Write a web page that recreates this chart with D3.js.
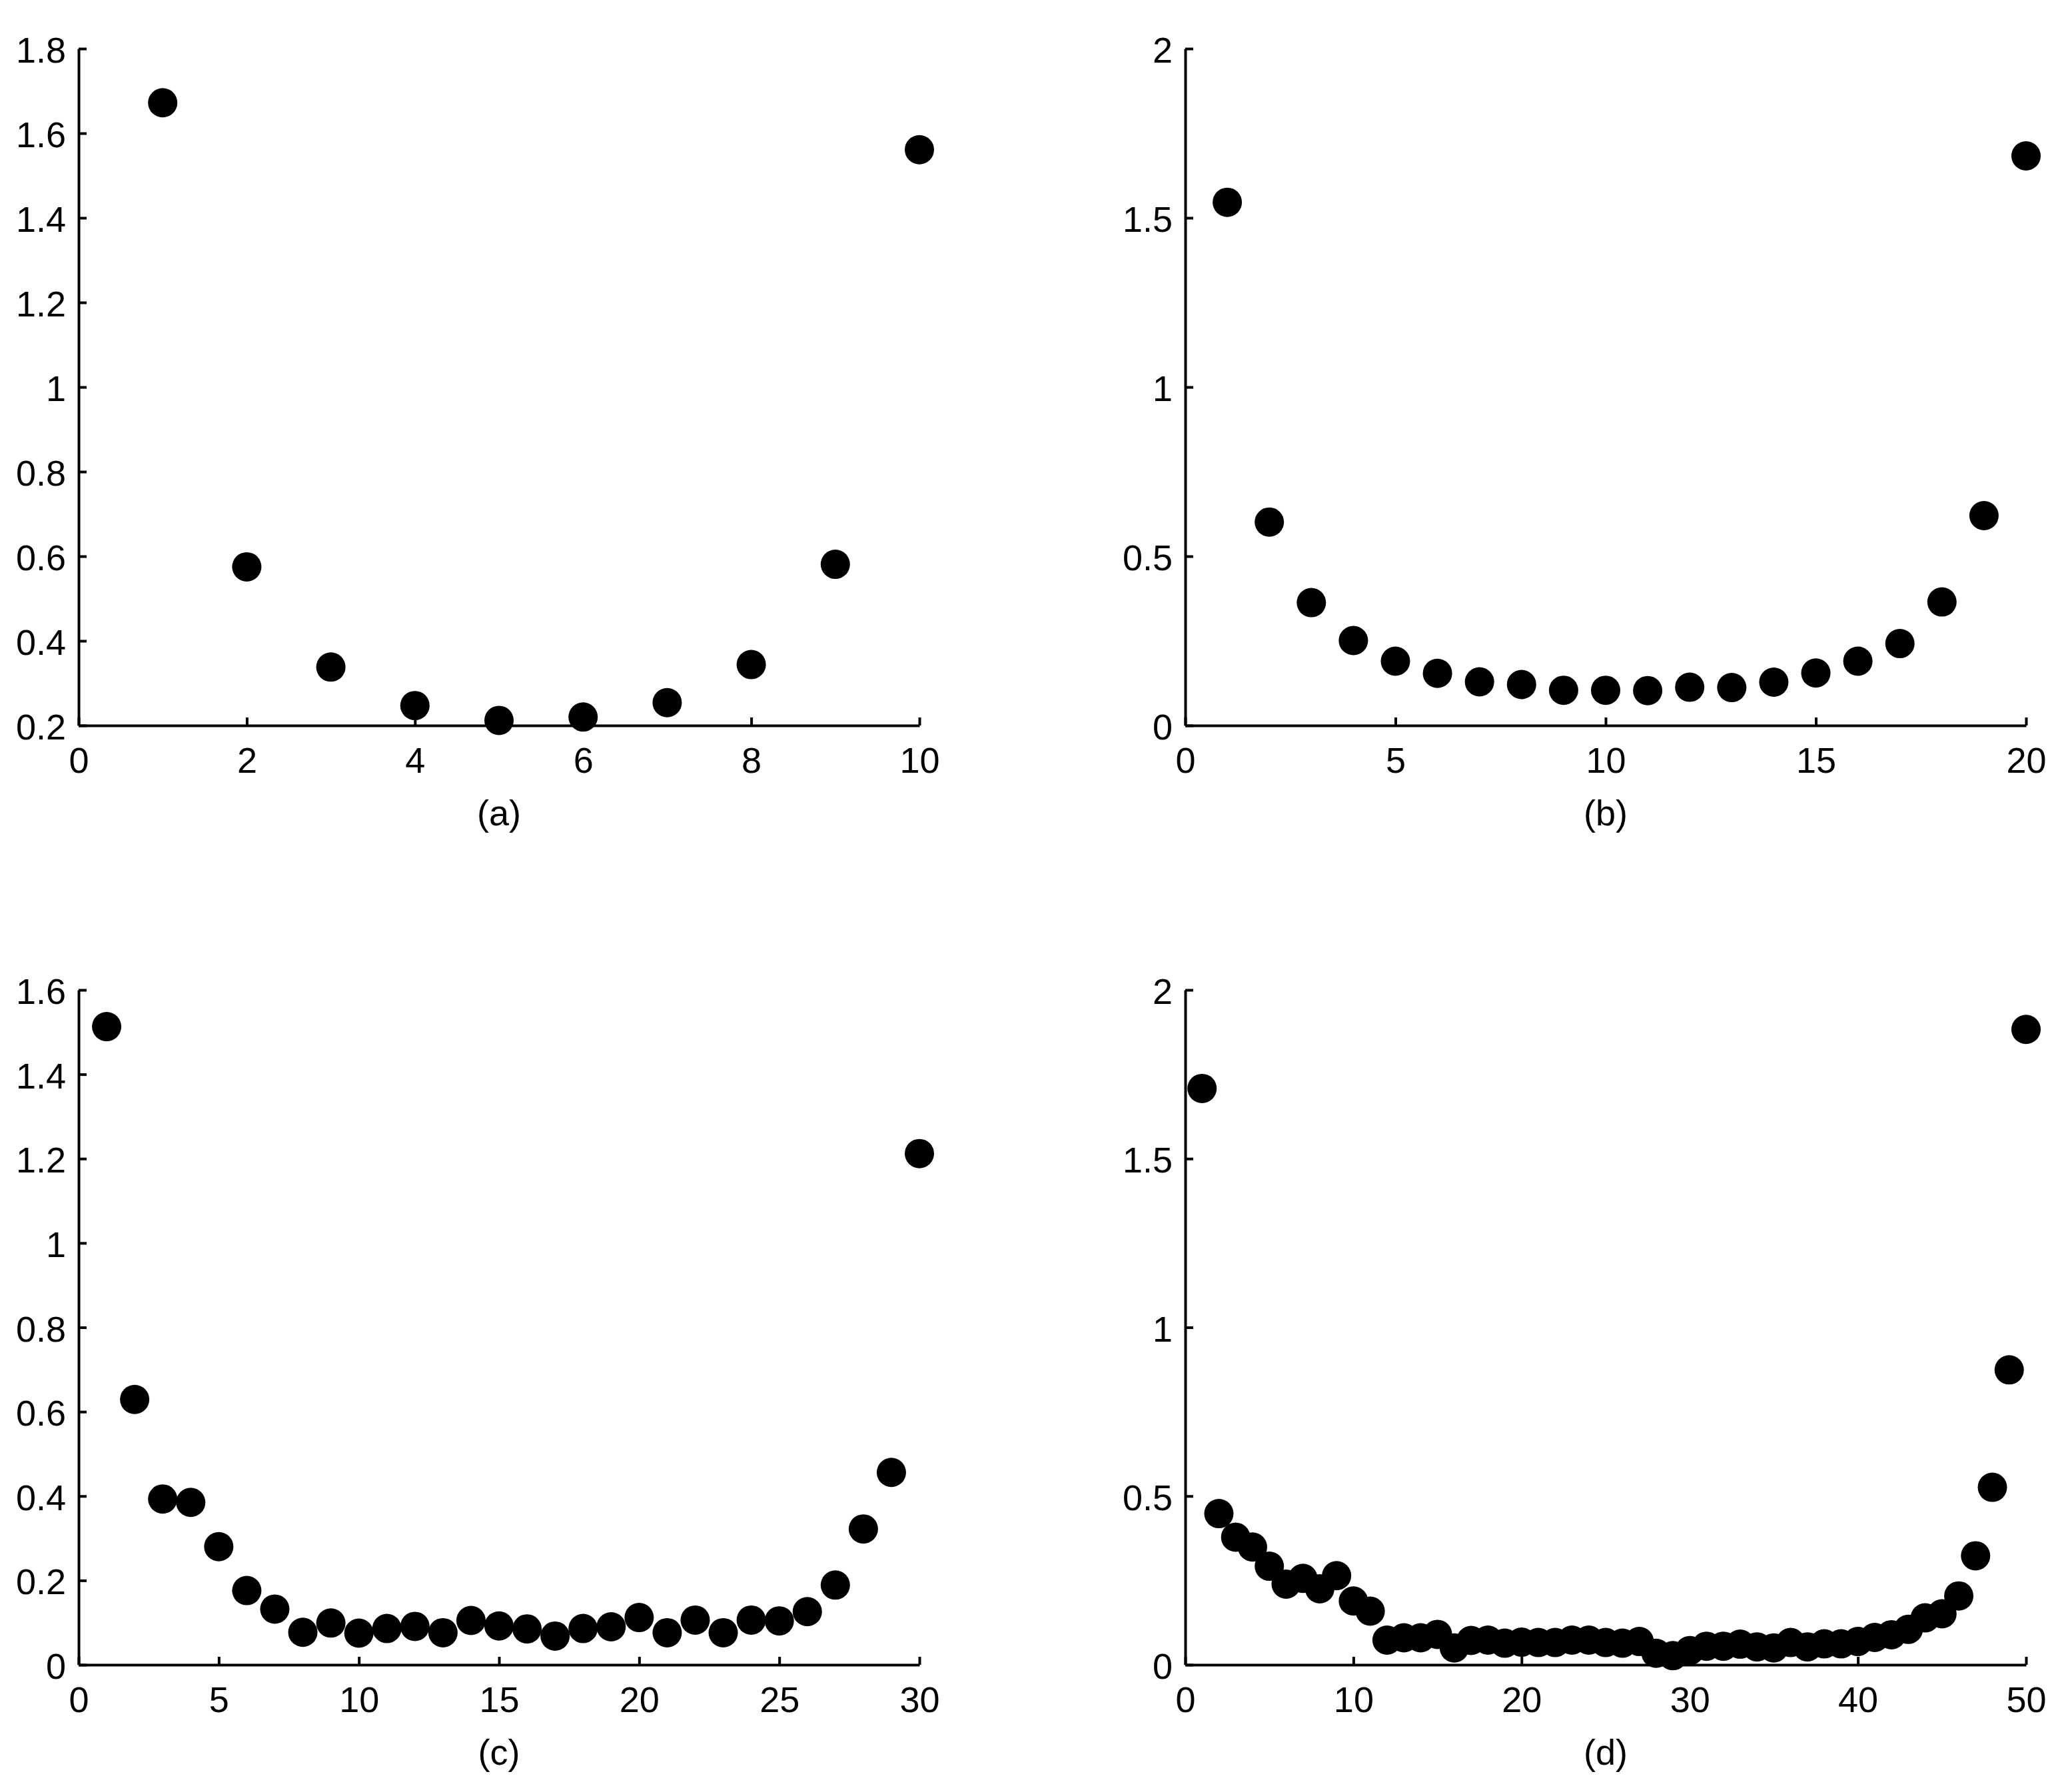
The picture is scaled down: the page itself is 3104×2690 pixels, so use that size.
<!DOCTYPE html>
<html>
<head>
<meta charset="utf-8">
<script src="https://cdn.jsdelivr.net/npm/d3@7"></script>
<style>
  body { margin: 0; background: #fff; }
  svg { display: block; }
  text { font-family: "Liberation Sans", Arial, sans-serif; }
</style>
</head>
<body>
<svg id="chart"></svg>
<script>
const width = 3104;
const height = 2690;

// values
const valuesA = [1.672, 0.575, 0.338, 0.247, 0.212, 0.220, 0.254, 0.344, 0.581, 1.561];
const valuesB = [1.546, 0.601, 0.363, 0.251, 0.190, 0.154, 0.129, 0.121, 0.104, 0.104,
                 0.103, 0.113, 0.112, 0.128, 0.155, 0.190, 0.242, 0.365, 0.620, 1.683];
const valuesC = [1.513, 0.629, 0.393, 0.385, 0.280, 0.176, 0.132, 0.077, 0.099, 0.075,
                 0.086, 0.091, 0.076, 0.105, 0.092, 0.085, 0.068, 0.086, 0.090, 0.112,
                 0.076, 0.106, 0.076, 0.106, 0.104, 0.126, 0.189, 0.322, 0.456, 1.212];
const valuesD = [1.708, 0.448, 0.378, 0.349, 0.292, 0.239, 0.256, 0.225, 0.264, 0.189,
                 0.159, 0.073, 0.080, 0.080, 0.090, 0.050, 0.072, 0.073, 0.064, 0.067,
                 0.066, 0.066, 0.073, 0.073, 0.066, 0.064, 0.069, 0.034, 0.027, 0.042,
                 0.055, 0.055, 0.061, 0.053, 0.050, 0.066, 0.053, 0.062, 0.062, 0.069,
                 0.081, 0.089, 0.105, 0.139, 0.151, 0.204, 0.323, 0.526, 0.874, 1.883];

const xTicksA = [0, 2, 4, 6, 8, 10];
const xTicksB = [0, 5, 10, 15, 20];
const xTicksC = [0, 5, 10, 15, 20, 25, 30];
const xTicksD = [0, 10, 20, 30, 40, 50];
const yTicksA = [0.2, 0.4, 0.6, 0.8, 1, 1.2, 1.4, 1.6, 1.8];
const yTicksB = [0, 0.5, 1, 1.5, 2];
const yTicksC = [0, 0.2, 0.4, 0.6, 0.8, 1, 1.2, 1.4, 1.6];
const yTicksD = [0, 0.5, 1, 1.5, 2];

const captions = ["(a)", "(b)", "(c)", "(d)"];

const svg = d3.select("#chart")
  .attr("width", width)
  .attr("height", height);

const fontSize = 54;
const plotW = 1262;

const panels = [
  { left: 118,  top: 73,   bottom: 1089, values: valuesA, xTicks: xTicksA, yTicks: yTicksA, caption: captions[0] },
  { left: 1779, top: 73,   bottom: 1089, values: valuesB, xTicks: xTicksB, yTicks: yTicksB, caption: captions[1] },
  { left: 118,  top: 1486, bottom: 2499, values: valuesC, xTicks: xTicksC, yTicks: yTicksC, caption: captions[2] },
  { left: 1779, top: 1486, bottom: 2499, values: valuesD, xTicks: xTicksD, yTicks: yTicksD, caption: captions[3] }
];

panels.forEach(p => {
  const g = svg.append("g")
    .attr("transform", `translate(${p.left},${p.top})`);
  const h = p.bottom - p.top;

  const x = d3.scaleLinear()
    .domain(d3.extent(p.xTicks))
    .range([0, plotW]);
  const y = d3.scaleLinear()
    .domain(d3.extent(p.yTicks))
    .range([h, 0]);

  // axes with inward ticks, no box
  const xAxis = g.append("g")
    .attr("transform", `translate(0,${h})`)
    .call(d3.axisBottom(x)
      .tickValues(p.xTicks)
      .tickFormat(d3.format("d"))
      .tickSizeInner(-12)
      .tickSizeOuter(0)
      .tickPadding(33));

  const yAxis = g.append("g")
    .call(d3.axisLeft(y)
      .tickValues(p.yTicks)
      .tickFormat(d => String(d))
      .tickSizeInner(-12)
      .tickSizeOuter(0)
      .tickPadding(19));

  [xAxis, yAxis].forEach(ax => {
    ax.select(".domain").attr("stroke", "#000").attr("stroke-width", 4);
    ax.selectAll(".tick line").attr("stroke", "#000").attr("stroke-width", 4);
    ax.selectAll(".tick text")
      .attr("fill", "#000")
      .attr("font-size", fontSize)
      .attr("font-family", "'Liberation Sans', Arial, sans-serif");
  });
  yAxis.selectAll(".tick text").attr("dy", "0.38em");

  // data points
  g.selectAll("circle")
    .data(p.values)
    .enter()
    .append("circle")
    .attr("cx", (d, i) => x(i + 1))
    .attr("cy", d => y(d))
    .attr("r", 22)
    .attr("fill", "#000");

  // panel caption
  g.append("text")
    .attr("x", plotW / 2)
    .attr("y", h + 150)
    .attr("text-anchor", "middle")
    .attr("font-size", fontSize)
    .attr("fill", "#000")
    .text(p.caption);
});
</script>
</body>
</html>
